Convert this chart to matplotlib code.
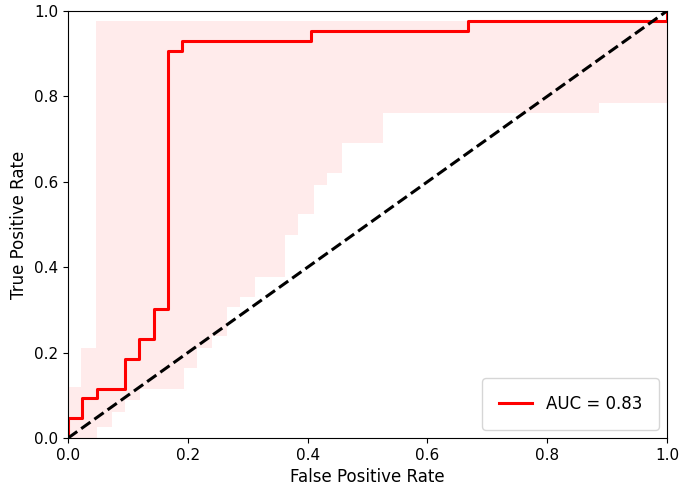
#ROC curve with confidence band
import numpy as np
import matplotlib
matplotlib.use('Agg')
import matplotlib.pyplot as plt

#ROC curve points (step, where='post')
fpr = [0.0, 0.0, 0.024, 0.048, 0.095, 0.119, 0.143, 0.167, 0.190, 0.405, 0.667, 1.0]
tpr = [0.0, 0.047, 0.093, 0.116, 0.186, 0.233, 0.302, 0.907, 0.930, 0.953, 0.977, 1.0]
auc_value = 0.83

#band upper bound (step, where='post')
upper_x = [0.0, 0.022, 0.047, 1.0]
upper_y = [0.12, 0.212, 0.977, 0.977]

#band lower bound (step, where='post')
lower_x = [0.0, 0.048, 0.073, 0.095, 0.120, 0.193, 0.215, 0.240, 0.265, 0.287,
           0.312, 0.362, 0.384, 0.410, 0.432, 0.457, 0.526, 0.887, 1.0]
lower_y = [0.0, 0.026, 0.062, 0.090, 0.116, 0.163, 0.210, 0.238, 0.307, 0.331,
           0.378, 0.475, 0.524, 0.592, 0.620, 0.690, 0.762, 0.784, 0.784]

#common grid for the band
grid = np.array(sorted(set(upper_x) | set(lower_x)))
up_idx = np.searchsorted(upper_x, grid, side='right') - 1
lo_idx = np.searchsorted(lower_x, grid, side='right') - 1
band_up = np.array(upper_y)[up_idx]
band_lo = np.array(lower_y)[lo_idx]

fig = plt.figure(figsize=(6.85, 4.9), dpi=100)
ax = fig.add_axes([0.0993, 0.106, 0.8744, 0.8716])

ax.fill_between(grid, band_lo, band_up, step='post', color='red', alpha=0.08, lw=0)
ax.step(fpr, tpr, where='post', color='red', lw=2.2, label='AUC = %0.2f' % auc_value)
ax.plot([0, 1], [0, 1], color='black', lw=2.2, linestyle='--')

ax.set_xlim(0, 1)
ax.set_ylim(0, 1)
ax.tick_params(labelsize=11)
ax.set_xlabel('False Positive Rate', fontsize=12)
ax.set_ylabel('True Positive Rate', fontsize=12)
ax.legend(loc='lower right', fontsize=12, borderpad=1.0, handletextpad=0.8)

fig.savefig('out.png', dpi=100)
